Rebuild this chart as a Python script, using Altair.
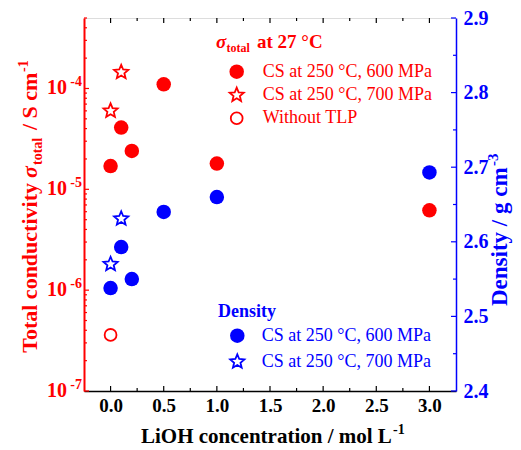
import altair as alt
import pandas as pd

# ---------------- data ----------------
red_circle_x = [0.0, 0.1, 0.2, 0.5, 1.0, 3.0]
red_circle_y = [1.7e-5, 4.1e-5, 2.4e-5, 1.1e-4, 1.8e-5, 6.2e-6]
red_star_x = [0.0, 0.1]
red_star_y = [6.0e-5, 1.45e-4]
red_open_x = [0.0]
red_open_y = [3.6e-7]

blue_circle_x = [0.0, 0.1, 0.2, 0.5, 1.0, 3.0]
blue_circle_y = [2.538, 2.593, 2.550, 2.640, 2.660, 2.693]
blue_star_x = [0.0, 0.1]
blue_star_y = [2.570, 2.631]

x_major = [0.0, 0.5, 1.0, 1.5, 2.0, 2.5, 3.0]
x_minor = [0.25, 0.75, 1.25, 1.75, 2.25, 2.75]
left_major = [1e-7, 1e-6, 1e-5, 1e-4]
left_exps = ["-7", "-6", "-5", "-4"]
left_minor = [m * 10.0 ** e for e in (-7, -6, -5, -4) for m in range(2, 10) if m * 10.0 ** e <= 5e-4]
right_major = [2.4, 2.5, 2.6, 2.7, 2.8, 2.9]
right_minor = [2.45, 2.55, 2.65, 2.75, 2.85]

legend_red_labels = ["CS at 250 °C, 600 MPa", "CS at 250 °C, 700 MPa", "Without TLP"]
legend_blue_labels = ["CS at 250 °C, 600 MPa", "CS at 250 °C, 700 MPa"]

# ---------------- style ----------------
SERIF = "Liberation Serif"
RED = "#ff0000"
BLUE = "#0000ff"
W, H = 372, 373
STAR = ("M0,-1L0.265,-0.364L0.951,-0.309L0.428,0.139L0.588,0.809L0,0.45"
        "L-0.588,0.809L-0.428,0.139L-0.951,-0.309L-0.265,-0.364Z")

xscale = alt.Scale(domain=[-0.25, 3.25], nice=False, zero=False)
xaxis = alt.Axis(values=x_major, format=".1f", labelFont=SERIF, labelFontWeight="bold",
                 labelFontSize=19, labelColor="black", labelPadding=5, ticks=False,
                 domainColor="black", domainWidth=1.5, grid=False, title=None)
X = alt.X("x:Q", scale=xscale, axis=xaxis)

rscale = alt.Scale(type="log", domain=[1e-7, 5e-4], nice=False)
raxis = alt.Axis(orient="left", labels=False, ticks=False, domainColor=RED,
                 domainWidth=2, grid=False, title=None)
YR = alt.Y("y:Q", scale=rscale, axis=raxis)

bscale = alt.Scale(domain=[2.4, 2.9], nice=False, zero=False)
baxis = alt.Axis(orient="right", values=right_major, format=".1f", labelFont=SERIF,
                 labelFontWeight="bold", labelFontSize=20, labelColor=BLUE, labelPadding=7,
                 ticks=False, domainColor=BLUE, domainWidth=1.5, grid=False, title=None)
YB = alt.Y("y:Q", scale=bscale, axis=baxis)


def pts(xs, ys, Y, **mk):
    return alt.Chart(pd.DataFrame({"x": xs, "y": ys})).mark_point(opacity=1, **mk).encode(x=X, y=Y)


def one():
    return pd.DataFrame({"k": [0]})


def txt(text, x, y, size, color, weight="bold", style="normal", align="left",
        baseline="alphabetic", angle=0):
    return alt.Chart(one()).mark_text(
        font=SERIF, fontSize=size, fontWeight=weight, fontStyle=style, color=color,
        align=align, baseline=baseline, angle=angle
    ).encode(x=alt.value(x), y=alt.value(y), text=alt.value(text))


def sym(x, y, color, shape, filled, size):
    kw = dict(shape=shape, filled=filled, size=size, color=color, opacity=1)
    if not filled:
        kw["strokeWidth"] = 1.8
    return alt.Chart(one()).mark_point(**kw).encode(x=alt.value(x), y=alt.value(y))


# ticks (inward)
def xticks(vals, y0, y1):
    return alt.Chart(pd.DataFrame({"x": vals})).mark_rule(color="black", strokeWidth=1.2).encode(
        x=X, y=alt.value(y0), y2=alt.value(y1))


def yticks(vals, Y, x0, x1, color):
    return alt.Chart(pd.DataFrame({"y": vals})).mark_rule(color=color, strokeWidth=1.2).encode(
        y=Y, x=alt.value(x0), x2=alt.value(x1))


left_lab10 = alt.Chart(pd.DataFrame({"y": left_major, "e": left_exps})).mark_text(
    font=SERIF, fontSize=20, fontWeight="bold", color=RED, align="right", baseline="middle"
).encode(y=YR, x=alt.value(-17), text=alt.value("10"))
left_labexp = alt.Chart(pd.DataFrame({"y": left_major, "e": left_exps})).mark_text(
    font=SERIF, fontSize=14, fontWeight="bold", color=RED, align="right", baseline="middle", dy=-6
).encode(y=YR, x=alt.value(-2), text="e:N")

red_layer = alt.layer(
    xticks(x_major, H, H - 5), xticks(x_minor, H, H - 3),
    xticks(x_major, 0, 5), xticks(x_minor, 0, 3),
    yticks(left_major, YR, 0, 5, RED), yticks(left_minor, YR, 0, 3, RED),
    left_lab10, left_labexp,
    pts(red_circle_x, red_circle_y, YR, shape="circle", filled=True, size=210, color=RED),
    pts(red_star_x, red_star_y, YR, shape=STAR, filled=False, size=220, color=RED, strokeWidth=1.8),
    pts(red_open_x, red_open_y, YR, shape="circle", filled=False, size=140, color=RED, strokeWidth=1.8),
)

blue_layer = alt.layer(
    yticks(right_major, YB, W, W - 5, BLUE), yticks(right_minor, YB, W, W - 3, BLUE),
    pts(blue_circle_x, blue_circle_y, YB, shape="circle", filled=True, size=210, color=BLUE),
    pts(blue_star_x, blue_star_y, YB, shape=STAR, filled=False, size=220, color=BLUE, strokeWidth=1.8),
)

decor = [
    # left axis title (rotated, pieces for italic sigma / subscript / superscript)
    txt("Total conductivity", -47, 165, 22, RED, align="right", angle=270),
    txt("σ", -47, 160, 22, RED, style="italic", angle=270),
    txt("total", -42, 147, 14, RED, angle=270),
    txt("/ S cm", -47, 112, 22, RED, angle=270),
    txt("-1", -56, 54, 14, RED, angle=270),
    # right axis title
    txt("Density / g cm", 423, 288, 23, BLUE, angle=270),
    txt("-3", 414, 148, 15, BLUE, angle=270),
    # x axis title
    txt("LiOH concentration / mol L", 57, 425, 21, "black"),
    txt("-1", 309, 416, 14, "black"),
    # red legend
    txt("σ", 132, 30, 19, RED, style="italic"),
    txt("total", 142.5, 34, 12, RED),
    txt("at 27 °C", 173, 30, 19, RED),
    sym(152.7, 53.7, RED, "circle", True, 210),
    txt(legend_red_labels[0], 178.7, 53.7, 18, RED, weight="normal", baseline="middle"),
    sym(152.7, 77, RED, STAR, False, 220),
    txt(legend_red_labels[1], 178.7, 77, 18, RED, weight="normal", baseline="middle"),
    sym(152.7, 100.3, RED, "circle", False, 140),
    txt(legend_red_labels[2], 178.7, 100.3, 18, RED, weight="normal", baseline="middle"),
    # blue legend
    txt("Density", 134, 294.3, 18, BLUE, baseline="middle"),
    sym(153.3, 317.7, BLUE, "circle", True, 210),
    txt(legend_blue_labels[0], 177.7, 317.7, 18, BLUE, weight="normal", baseline="middle"),
    sym(153.3, 343.7, BLUE, STAR, False, 220),
    txt(legend_blue_labels[1], 177.7, 343.7, 18, BLUE, weight="normal", baseline="middle"),
]

chart = alt.layer(red_layer, blue_layer, *decor).resolve_scale(y="independent").properties(
    width=W, height=H,
    autosize=alt.AutoSizeParams(type="none"),
    padding={"left": 76, "top": 10, "right": 57, "bottom": 59},
).configure_view(stroke="black", strokeWidth=1.5).configure(background="white")

chart.save("out.html", embed_options={"renderer": "svg", "actions": False})
